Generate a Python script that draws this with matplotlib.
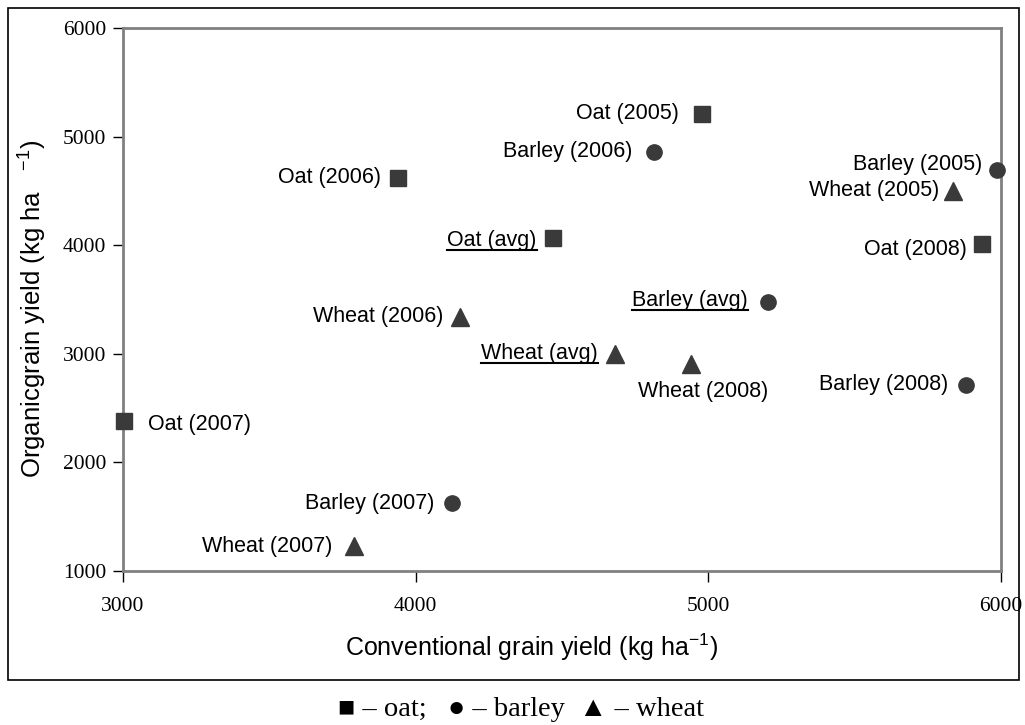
import matplotlib
matplotlib.use("Agg")
import matplotlib.pyplot as plt
from matplotlib.patches import Rectangle
from matplotlib.lines import Line2D

plt.rcParams['mathtext.fontset'] = 'custom'
plt.rcParams['mathtext.rm'] = 'Liberation Sans'
plt.rcParams['mathtext.it'] = 'Liberation Sans'

# conventional (x) vs organic (y) grain yield, kg/ha
oat_labels = ['Oat (2005)', 'Oat (2006)', 'Oat (2007)', 'Oat (2008)', 'Oat (avg)']
oat_x = [4980, 3940, 3005, 5935, 4470]
oat_y = [5210, 4620, 2385, 4010, 4065]

barley_labels = ['Barley (2005)', 'Barley (2006)', 'Barley (2007)', 'Barley (2008)', 'Barley (avg)']
barley_x = [5985, 4815, 4125, 5880, 5205]
barley_y = [4690, 4860, 1625, 2715, 3475]

wheat_labels = ['Wheat (2005)', 'Wheat (2006)', 'Wheat (2007)', 'Wheat (2008)', 'Wheat (avg)']
wheat_x = [5835, 4150, 3790, 4940, 4680]
wheat_y = [4500, 3340, 1230, 2905, 3000]

x_ticks = [3000, 4000, 5000, 6000]
y_ticks = [1000, 2000, 3000, 4000, 5000, 6000]

# label offsets in points (dx, dy, ha)
offsets = {
    'Oat (2005)': (-17, 0, 'right'), 'Oat (2006)': (-12, 0, 'right'),
    'Oat (2007)': (17, -3, 'left'), 'Oat (2008)': (-11, -4, 'right'),
    'Oat (avg)': (-12, -2, 'right'),
    'Barley (2005)': (-10, 4, 'right'), 'Barley (2006)': (-16, 0, 'right'),
    'Barley (2007)': (-13, 0, 'right'), 'Barley (2008)': (-13, 0, 'right'),
    'Barley (avg)': (-15, 1, 'right'),
    'Wheat (2005)': (-10, 0, 'right'), 'Wheat (2006)': (-12, 0, 'right'),
    'Wheat (2007)': (-16, 0, 'right'), 'Wheat (2008)': (9, -20, 'center'),
    'Wheat (avg)': (-12, 0, 'right'),
}

mk_color = '#3a3a3a'
sans = 'Liberation Sans'
serif = 'Liberation Serif'

fig = plt.figure(figsize=(10.25, 7.25), dpi=100)
ax = fig.add_axes([0.12, 0.2124, 0.8566, 0.749])

ax.plot(oat_x, oat_y, 's', color=mk_color, markersize=12, clip_on=False, zorder=3)
ax.plot(barley_x, barley_y, 'o', color=mk_color, markersize=11, clip_on=False, zorder=3)
ax.plot(wheat_x, wheat_y, '^', color=mk_color, markersize=13, clip_on=False, zorder=3)

avg_texts = []
for labels, xs, ys in [(oat_labels, oat_x, oat_y), (barley_labels, barley_x, barley_y),
                       (wheat_labels, wheat_x, wheat_y)]:
    for lab, x, y in zip(labels, xs, ys):
        dx, dy, ha = offsets[lab]
        t = ax.annotate(lab, (x, y), xytext=(dx, dy), textcoords='offset points',
                        ha=ha, va='center', fontsize=15.5, family=sans)
        if 'avg' in lab:
            avg_texts.append(t)

ax.set_xlim(3000, 6000)
ax.set_ylim(1000, 6000)
ax.set_xticks(x_ticks)
ax.set_yticks(y_ticks)
ax.tick_params(axis='both', labelsize=15.5, labelfontfamily=serif)
ax.tick_params(axis='y', direction='out', length=7, width=1, color='black', pad=5)
ax.tick_params(axis='x', direction='out', length=8, width=1, color='black', pad=11)
for s in ax.spines.values():
    s.set_color('#808080')
    s.set_linewidth(2)

ax.set_xlabel('Conventional grain yield (kg ha$^{-1}$)', fontsize=18, family=sans)
ax.xaxis.label.set_va('center')
ax.xaxis.set_label_coords(0.465, -0.14)
ax.set_ylabel('Organicgrain yield (kg ha   $^{-1}$)', fontsize=18.5, family=sans)
ax.yaxis.label.set_va('center')
ax.yaxis.set_label_coords(-0.1025, 0.482)

# outer frame around chart
fig.patches.append(Rectangle((8 / 1025, 45 / 725), 1011 / 1025, 672 / 725, fill=False,
                             edgecolor='black', linewidth=1.2, transform=fig.transFigure))

fig.text(0.508, 0.021, '\u25a0 \u2013 oat;   \u25cf \u2013 barley  \u25b2 \u2013 wheat',
         ha='center', va='center', fontsize=20.5, family=[serif, 'DejaVu Serif'])

# underline the average labels
fig.canvas.draw()
r = fig.canvas.get_renderer()
inv = fig.transFigure.inverted()
for t in avg_texts:
    bb = t.get_window_extent(r)
    (x0, y0), (x1, _) = inv.transform([(bb.x0, bb.y0 + 1.5), (bb.x1, bb.y0 + 1.5)])
    fig.lines.append(Line2D([x0, x1], [y0, y0], color='black', linewidth=1.5,
                            transform=fig.transFigure))

fig.savefig('out.png', dpi=100)
